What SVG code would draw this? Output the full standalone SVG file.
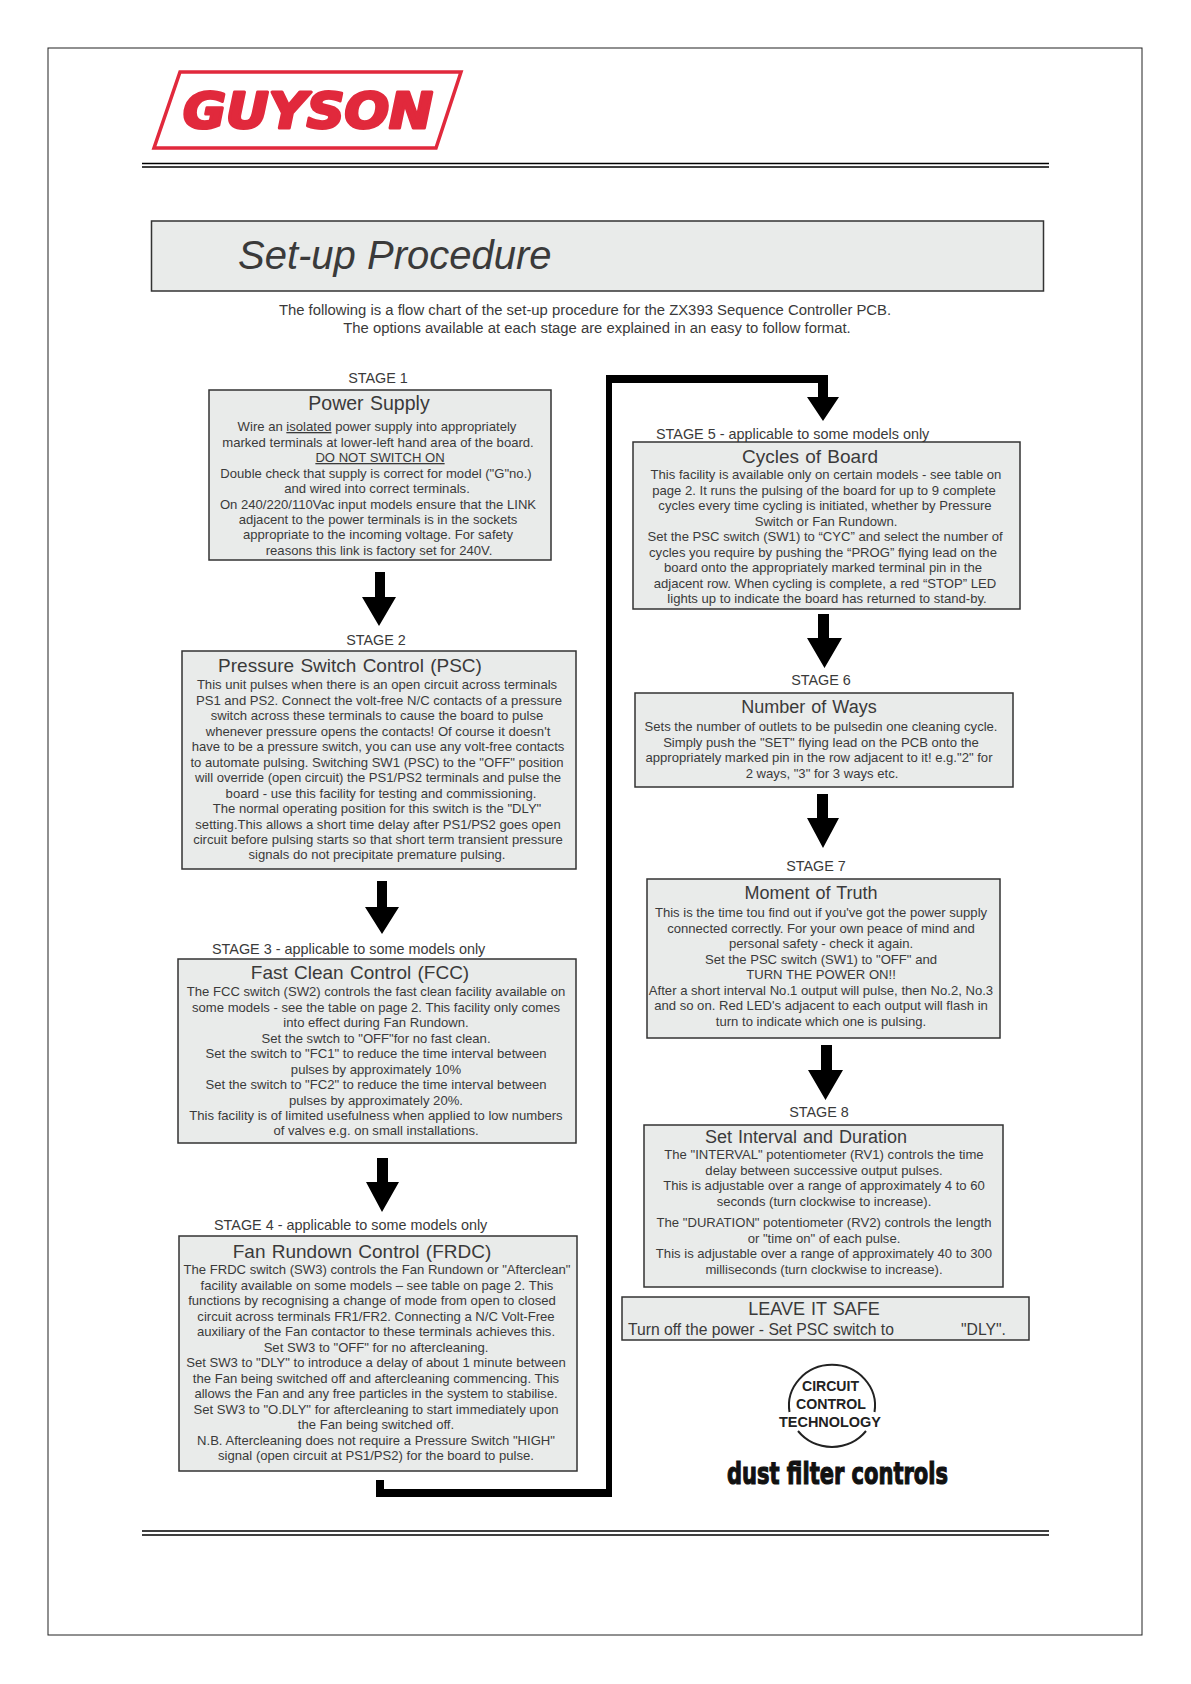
<svg xmlns="http://www.w3.org/2000/svg" width="1191" height="1684" viewBox="0 0 1191 1684">
<style>
text{font-family:"Liberation Sans",Arial,sans-serif;fill:#3a3a3a}
.b{font-size:13.1px;text-anchor:middle}
.t{font-size:19px;text-anchor:middle;word-spacing:1px}
.t2{font-size:18px;text-anchor:middle;word-spacing:1px}
.s{font-size:14.400px}
.m{text-anchor:middle}
.i{font-size:14.850px;text-anchor:middle}
.box{fill:#e9ebea;stroke:#333;stroke-width:1.5}
.a{fill:#000}
.c{font-size:15px;font-weight:bold;fill:#222;text-anchor:middle}
</style>
<rect width="1191" height="1684" fill="#fff"/>
<g id="page">
<rect x="48" y="48" width="1094" height="1587" fill="none" stroke="#222" stroke-width="1"/>
<path d="M142 163.500H1049M142 167H1049M142 1531H1049M142 1535H1049" fill="none" stroke="#000" stroke-width="1.600"/>
</g>
<g id="logo">
<path d="M180 72H461L436 148H154Z" fill="#fff" stroke="#e1293c" stroke-width="3.500"/>
<text x="183" y="128" textLength="250" lengthAdjust="spacingAndGlyphs" style="font-family:'DejaVu Sans',sans-serif;font-weight:bold;font-style:italic;font-size:50px;fill:#e1293c;stroke:#e1293c;stroke-width:3;stroke-linejoin:round">GUYSON</text>
</g>
<g id="title">
<rect class="box" x="151.500" y="221" width="892" height="70"/>
<text x="238" y="269" style="font-size:40px;font-style:italic">Set-up Procedure</text>
</g>
<g id="intro">
<text class="i" x="585" y="315">The following is a flow chart of the set-up procedure for  the ZX393 Sequence Controller PCB.</text>
<text class="i" x="597" y="333">The options available at each stage are explained in an easy to follow format.</text>
</g>
<g id="connectors">
<path class="a" d="M375 572h10v25h11l-17 29l-17-29h13z"/>
<path class="a" d="M377 881h10v26h12l-17 27l-17-27h12z"/>
<path class="a" d="M377 1158h11v24h11l-17 30l-16-30h11z"/>
<path class="a" d="M376 1480h8v9h222V375h222v22h11l-16 24l-16-24h11V383H612V1497H376z"/>
<path class="a" d="M818 614h11v24h13l-17.500 30l-17.500-30h11z"/>
<path class="a" d="M817 794h11v24h11l-16 30l-16-30h10z"/>
<path class="a" d="M821 1045h11v25h11l-17.500 30l-17.500-30h13z"/>
</g>
<g id="stage1">
<text class="s m" x="378" y="383">STAGE 1</text>
<rect class="box" x="209" y="390" width="342" height="170"/>
<text class="t" x="369" y="410" style="font-size:19.500px">Power Supply</text>
<text class="b" x="377" y="431">Wire an <tspan text-decoration="underline">isolated</tspan> power supply into appropriately</text>
<text class="b" x="378" y="446.500">marked terminals at lower-left hand area of the board.</text>
<text class="b" x="380" y="462" text-decoration="underline">DO NOT SWITCH ON</text>
<text class="b" x="376" y="477.500">Double check that supply is correct for model ("G"no.)</text>
<text class="b" x="377" y="493">and wired into correct terminals.</text>
<text class="b" x="378" y="508.500">On 240/220/110Vac input models ensure that the LINK</text>
<text class="b" x="378" y="524">adjacent to the power terminals is in the sockets</text>
<text class="b" x="378" y="539">appropriate to the incoming voltage. For safety</text>
<text class="b" x="379" y="554.500">reasons this link is factory set for 240V.</text>
</g>
<g id="stage2">
<text class="s m" x="376" y="645">STAGE 2</text>
<rect class="box" x="182" y="651" width="394" height="218"/>
<text class="t" x="350" y="672">Pressure Switch Control (PSC)</text>
<text class="b" x="377" y="689">This unit pulses when there is an open circuit across terminals</text>
<text class="b" x="379" y="704.500">PS1 and PS2. Connect the volt-free N/C contacts of a pressure</text>
<text class="b" x="377" y="720">switch across these terminals to cause the board to pulse</text>
<text class="b" x="378" y="735.500">whenever pressure opens the contacts! Of course it doesn't</text>
<text class="b" x="378" y="751">have to be a pressure switch, you can use any volt-free contacts</text>
<text class="b" x="377" y="766.500">to automate pulsing. Switching SW1 (PSC) to the "OFF" position</text>
<text class="b" x="378" y="782">will override (open circuit) the PS1/PS2 terminals and pulse the</text>
<text class="b" x="381" y="797.500">board - use this facility for testing and commissioning.</text>
<text class="b" x="377" y="813">The normal operating position for this switch is the "DLY"</text>
<text class="b" x="378" y="828.500">setting.This allows a short time delay after PS1/PS2 goes open</text>
<text class="b" x="378" y="844">circuit before pulsing starts so that short term transient pressure</text>
<text class="b" x="377" y="859">signals do not precipitate premature pulsing.</text>
</g>
<g id="stage3">
<text class="s" x="212" y="954">STAGE 3 - applicable to some models only</text>
<rect class="box" x="178" y="959" width="398" height="184"/>
<text class="t" x="360" y="979">Fast Clean Control (FCC)</text>
<text class="b" x="376" y="996">The FCC switch (SW2) controls the fast clean facility available on</text>
<text class="b" x="376" y="1011.500">some models - see the table on page 2. This facility only comes</text>
<text class="b" x="376" y="1027">into effect during Fan Rundown.</text>
<text class="b" x="376" y="1042.500">Set the swtch to "OFF"for no fast clean.</text>
<text class="b" x="376" y="1058">Set the switch to "FC1" to reduce the time interval between</text>
<text class="b" x="376" y="1073.500">pulses by approximately 10%</text>
<text class="b" x="376" y="1089">Set the switch to "FC2" to reduce the time interval between</text>
<text class="b" x="376" y="1104.500">pulses by approximately 20%.</text>
<text class="b" x="376" y="1120">This facility is of limited usefulness when applied to low numbers</text>
<text class="b" x="376" y="1135">of valves e.g. on small installations.</text>
</g>
<g id="stage4">
<text class="s" x="214" y="1230">STAGE 4 - applicable to some models only</text>
<rect class="box" x="179" y="1236" width="398" height="235"/>
<text class="t" x="362" y="1258">Fan Rundown Control (FRDC)</text>
<text class="b" x="377" y="1274">The FRDC switch (SW3) controls the Fan Rundown or "Afterclean"</text>
<text class="b" x="377" y="1289.500">facility available on some models – see table on page 2.  This</text>
<text class="b" x="372" y="1305">functions by recognising a change of mode from open to closed</text>
<text class="b" x="376" y="1320.500">circuit across terminals FR1/FR2. Connecting a N/C Volt-Free</text>
<text class="b" x="376" y="1336">auxiliary of the Fan contactor to these terminals achieves this.</text>
<text class="b" x="376" y="1351.500">Set SW3 to "OFF" for no aftercleaning.</text>
<text class="b" x="376" y="1367">Set SW3 to "DLY" to introduce a delay of about 1 minute between</text>
<text class="b" x="376" y="1382.500">the Fan being switched off and aftercleaning commencing. This</text>
<text class="b" x="376" y="1398">allows the Fan and any free particles in the system to stabilise.</text>
<text class="b" x="376" y="1413.500">Set SW3 to "O.DLY" for aftercleaning to start immediately upon</text>
<text class="b" x="376" y="1429">the Fan being switched off.</text>
<text class="b" x="376" y="1444.500">N.B. Aftercleaning does not require a Pressure Switch "HIGH"</text>
<text class="b" x="376" y="1460">signal (open circuit at PS1/PS2) for the board to pulse.</text>
</g>
<g id="stage5">
<text class="s" x="656" y="439">STAGE 5 - applicable to some models only</text>
<rect class="box" x="633" y="442" width="387" height="167"/>
<text class="t" x="810" y="463">Cycles of Board</text>
<text class="b" x="826" y="479">This facility is available only on certain models - see table on</text>
<text class="b" x="824" y="494.500">page 2. It runs the pulsing of the board for up to 9 complete</text>
<text class="b" x="825" y="510">cycles every time cycling is initiated, whether by Pressure</text>
<text class="b" x="826" y="525.500">Switch or Fan Rundown.</text>
<text class="b" x="825" y="541">Set the PSC switch (SW1) to “CYC” and select the number of</text>
<text class="b" x="823" y="556.500">cycles you require by pushing the “PROG” flying lead on the</text>
<text class="b" x="823" y="572">board onto the appropriately marked terminal pin in the</text>
<text class="b" x="825" y="587.500">adjacent row. When cycling is complete, a red “STOP” LED</text>
<text class="b" x="827" y="603">lights up to indicate the board has returned to stand-by.</text>
</g>
<g id="stage6">
<text class="s m" x="821" y="685">STAGE 6</text>
<rect class="box" x="635" y="693" width="378" height="94"/>
<text class="t2" x="809" y="713">Number of Ways</text>
<text class="b" x="821" y="731">Sets the number of outlets to be pulsedin one cleaning cycle.</text>
<text class="b" x="821" y="746.500">Simply push the "SET" flying lead on the PCB onto the</text>
<text class="b" x="819" y="762">appropriately marked pin in the row adjacent to it! e.g."2" for</text>
<text class="b" x="822" y="777.500">2 ways, "3" for 3 ways etc.</text>
</g>
<g id="stage7">
<text class="s m" x="816" y="871">STAGE 7</text>
<rect class="box" x="647" y="879" width="353" height="159"/>
<text class="t2" x="811" y="899">Moment of Truth</text>
<text class="b" x="821" y="917">This is the time tou find out if you've got the power supply</text>
<text class="b" x="821" y="932.500">connected correctly. For your own peace of mind and</text>
<text class="b" x="821" y="948">personal safety - check it again.</text>
<text class="b" x="821" y="963.500">Set the PSC switch (SW1) to "OFF" and</text>
<text class="b" x="821" y="979">TURN THE POWER ON!!</text>
<text class="b" x="821" y="994.500">After a short interval No.1 output will pulse, then No.2, No.3</text>
<text class="b" x="821" y="1010">and so on. Red LED's adjacent to each output will flash in</text>
<text class="b" x="821" y="1025.500">turn to indicate which one is pulsing.</text>
</g>
<g id="stage8">
<text class="s m" x="819" y="1117">STAGE 8</text>
<rect class="box" x="644" y="1125" width="359" height="162"/>
<text class="t2" x="806" y="1143">Set Interval and Duration</text>
<text class="b" x="824" y="1159">The "INTERVAL" potentiometer (RV1) controls the time</text>
<text class="b" x="824" y="1174.500">delay between successive output pulses.</text>
<text class="b" x="824" y="1190">This is adjustable over a range of approximately 4 to 60</text>
<text class="b" x="824" y="1205.500">seconds (turn clockwise to increase).</text>
<text class="b" x="824" y="1227">The "DURATION" potentiometer (RV2) controls the length</text>
<text class="b" x="824" y="1242.500">or "time on" of each pulse.</text>
<text class="b" x="824" y="1258">This is adjustable over a range of approximately 40 to 300</text>
<text class="b" x="824" y="1273.500">milliseconds (turn clockwise to increase).</text>
</g>
<g id="leave">
<rect class="box" x="622" y="1297" width="407" height="43"/>
<text class="t2" x="814" y="1315">LEAVE IT SAFE</text>
<text x="628" y="1335" style="font-size:15.700px">Turn off the power - Set PSC switch to</text>
<text x="961" y="1335" style="font-size:15.700px">"DLY".</text>
</g>
<g id="cct-logo">
<path d="M789.500 1412A43 41 0 1 1 874.500 1412M798 1431A43 41 0 0 0 866 1431" fill="none" stroke="#222" stroke-width="2"/>
<text x="830.500" y="1391" class="c" textLength="57" lengthAdjust="spacingAndGlyphs">CIRCUIT</text>
<text x="831" y="1409" class="c" textLength="70" lengthAdjust="spacingAndGlyphs">CONTROL</text>
<text x="830" y="1427" class="c" textLength="102" lengthAdjust="spacingAndGlyphs">TECHNOLOGY</text>
<text x="727" y="1484" style="font-family:'DejaVu Sans',sans-serif;font-size:30px;font-weight:bold;fill:#111;stroke:#111;stroke-width:1.200" textLength="221" lengthAdjust="spacingAndGlyphs">dust filter controls</text>
</g>
</svg>
